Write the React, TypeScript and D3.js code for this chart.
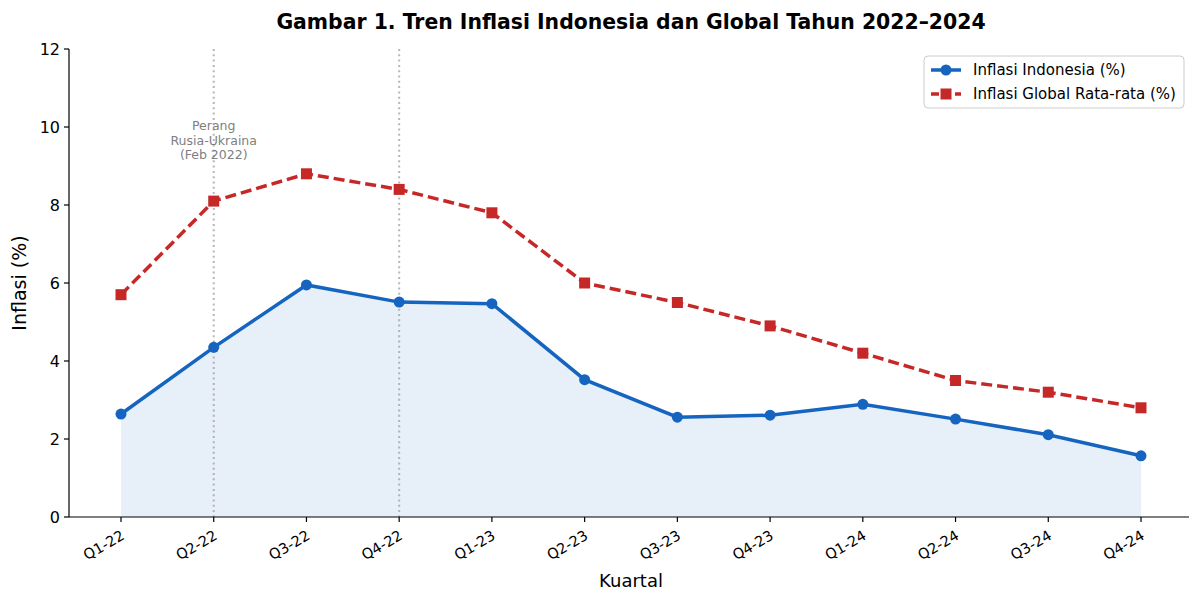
import React from "react";
import * as d3 from "d3";

const quarters = ["Q1-22","Q2-22","Q3-22","Q4-22","Q1-23","Q2-23","Q3-23","Q4-23","Q1-24","Q2-24","Q3-24","Q4-24"];
const indonesia = [2.64, 4.35, 5.95, 5.51, 5.47, 3.52, 2.56, 2.61, 2.89, 2.51, 2.11, 1.57];
const globalAvg = [5.7, 8.1, 8.8, 8.4, 7.8, 6.0, 5.5, 4.9, 4.2, 3.5, 3.2, 2.8];
const yTicks = [0, 2, 4, 6, 8, 10, 12];
const markerQuarters = ["Q2-22", "Q4-22"];
const annotationLines = ["Perang", "Rusia-Ukraina", "(Feb 2022)"];

const W = 1189, H = 590;
const L = 69, R = 1189, T = 49, B = 517;
const BLUE = "#1565C0", RED = "#C62828";
const FONT = "DejaVu Sans, sans-serif";

export default function App() {
  const x = d3.scaleLinear().domain([0, 11]).range([121, 1141]);
  const y = d3.scaleLinear().domain([0, 12]).range([B, T]);
  const line = d3.line<number>().x((_, i) => x(i)).y(d => y(d));
  const area = d3.area<number>().x((_, i) => x(i)).y0(y(0)).y1(d => y(d));

  return (
    <svg width={W} height={H} style={{ position: "absolute", left: 0, top: 0, background: "#fff" }} fontFamily={FONT}>
      <text x={631} y={29} textAnchor="middle" fontSize={20.4} fontWeight="bold">Gambar 1. Tren Inflasi Indonesia dan Global Tahun 2022–2024</text>
      <path d={area(indonesia)!} fill={BLUE} fillOpacity={0.1} />
      {markerQuarters.map(q => {
        const i = quarters.indexOf(q);
        return <line key={q} x1={x(i)} x2={x(i)} y1={y(12)} y2={y(0)} stroke="#999" strokeWidth={2} strokeDasharray="2,3.3" opacity={0.7} />;
      })}
      {annotationLines.map((t, k) => (
        <text key={t} x={x(1)} y={130 + k * 14.5} textAnchor="middle" fontSize={12.5} fill="#808080">{t}</text>
      ))}
      <path d={line(globalAvg)!} fill="none" stroke={RED} strokeWidth={3.5} strokeDasharray="11,5" />
      {globalAvg.map((v, i) => <rect key={i} x={x(i) - 5.5} y={y(v) - 5.5} width={11} height={11} fill={RED} />)}
      <path d={line(indonesia)!} fill="none" stroke={BLUE} strokeWidth={3.5} />
      {indonesia.map((v, i) => <circle key={i} cx={x(i)} cy={y(v)} r={5.5} fill={BLUE} />)}
      {/* axes */}
      <line x1={L} x2={L} y1={T} y2={B} stroke="#000" strokeWidth={1.2} />
      <line x1={L} x2={R} y1={B} y2={B} stroke="#000" strokeWidth={1.2} />
      {yTicks.map(t => (
        <g key={t}>
          <line x1={L - 5} x2={L} y1={y(t)} y2={y(t)} stroke="#000" strokeWidth={1.2} />
          <text x={L - 9} y={y(t)} dy="0.35em" textAnchor="end" fontSize={16}>{t}</text>
        </g>
      ))}
      {quarters.map((q, i) => (
        <g key={q}>
          <line x1={x(i)} x2={x(i)} y1={B} y2={B + 5} stroke="#000" strokeWidth={1.2} />
          <text transform={`translate(${x(i) - 1},${B + 12}) rotate(-30)`} textAnchor="end" dy="0.75em" fontSize={14.5}>{q}</text>
        </g>
      ))}
      <text x={631} y={587} textAnchor="middle" fontSize={18}>Kuartal</text>
      <text transform={`translate(26,${283}) rotate(-90)`} textAnchor="middle" fontSize={19}>Inflasi (%)</text>
      {/* legend */}
      <rect x={924} y={56} width={260} height={52} rx={4} fill="#fff" fillOpacity={0.8} stroke="#ccc" />
      <line x1={931} x2={961} y1={70} y2={70} stroke={BLUE} strokeWidth={3.5} />
      <circle cx={946} cy={70} r={5.5} fill={BLUE} />
      <text x={973} y={70} dy="0.35em" fontSize={15}>Inflasi Indonesia (%)</text>
      <line x1={931} x2={961} y1={94} y2={94} stroke={RED} strokeWidth={3.5} strokeDasharray="8,4" />
      <rect x={940.5} y={88.5} width={11} height={11} fill={RED} />
      <text x={973} y={94} dy="0.35em" fontSize={15}>Inflasi Global Rata-rata (%)</text>
    </svg>
  );
}
